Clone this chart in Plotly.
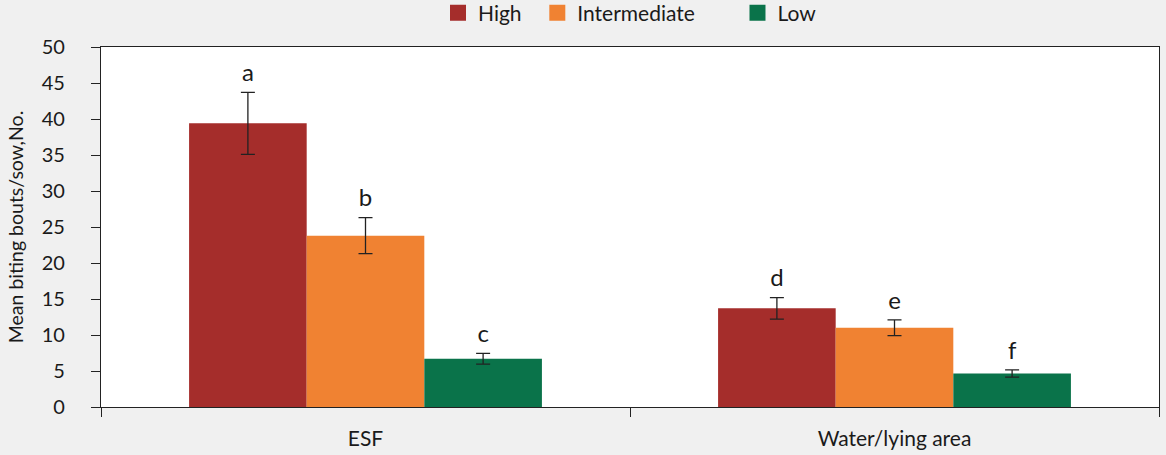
import plotly.graph_objects as go

categories = ["ESF", "Water/lying area"]
series_names = ["High", "Intermediate", "Low"]
high = [39.4, 13.7]
intermediate = [23.8, 11.0]
low = [6.7, 4.65]
high_err = [4.3, 1.5]
intermediate_err = [2.5, 1.1]
low_err = [0.75, 0.5]
high_letters = ["a", "d"]
intermediate_letters = ["b", "e"]
low_letters = ["c", "f"]
y_ticks = [0, 5, 10, 15, 20, 25, 30, 35, 40, 45, 50]

colors = ["#A52D2B", "#F08232", "#0A734A"]
FONT = "Lato"
NB = "\u00a0"
legend_pad = [2, 7, 0]

fig = go.Figure()
values = [high, intermediate, low]
errs = [high_err, intermediate_err, low_err]
letters = [high_letters, intermediate_letters, low_letters]

for i, name in enumerate(series_names):
    fig.add_trace(go.Bar(
        x=categories, y=values[i], name=name, showlegend=False,
        marker=dict(color=colors[i], line=dict(width=0)),
        offsetgroup=str(i),
        error_y=dict(type="data", array=errs[i], visible=True,
                     color="#222222", thickness=1.3, width=7),
    ))
for i, name in enumerate(series_names):
    tops = [v + e for v, e in zip(values[i], errs[i])]
    fig.add_trace(go.Scatter(
        x=categories, y=tops, mode="markers+text", text=letters[i],
        marker=dict(size=7, opacity=0),
        textposition="top center", offsetgroup=str(i),
        textfont=dict(family=FONT, size=24, color="#1a1a1a"),
        showlegend=False, hoverinfo="skip", cliponaxis=False,
    ))
# legend entries (square swatches)
for i, name in enumerate(series_names):
    fig.add_trace(go.Scatter(
        x=[None], y=[None], mode="markers", name=name + NB * legend_pad[i],
        marker=dict(symbol="square", size=18, color=colors[i]),
        showlegend=True, hoverinfo="skip",
    ))

fig.update_layout(
    width=1166, height=455,
    margin=dict(l=101, r=7, t=47, b=48, autoexpand=False),
    paper_bgcolor="#F0F0F0", plot_bgcolor="#FFFFFF",
    barmode="group", bargap=0.333, bargroupgap=0,
    scattermode="group", scattergap=0.333,
    font=dict(family=FONT, size=20, color="#1a1a1a"),
    legend=dict(orientation="h", x=0.5, xanchor="center", y=0.971, yanchor="middle",
                yref="container", font=dict(size=21), bgcolor="rgba(0,0,0,0)",
                itemsizing="trace", itemclick=False, itemdoubleclick=False),
    showlegend=True,
)
fig.update_xaxes(
    type="category", tickson="boundaries", ticks="outside", ticklen=9,
    tickcolor="#222222", linecolor="#222222", linewidth=1.3, showline=True,
    mirror=True, showgrid=False, tickfont=dict(size=21), ticklabelstandoff=13,
)
fig.update_yaxes(
    range=[0, 50], tickvals=y_ticks, ticks="outside", ticklen=9,
    tickcolor="#222222", linecolor="#222222", linewidth=1.3, showline=True,
    mirror=True, showgrid=False, zeroline=False, tickfont=dict(size=20),
    ticklabelstandoff=22,
    title=dict(text="Mean biting bouts/sow,No.", font=dict(size=19.5), standoff=12),
)

fig.write_html("out.html", config={"displayModeBar": False},
               post_script="document.body.style.margin='0px';")
